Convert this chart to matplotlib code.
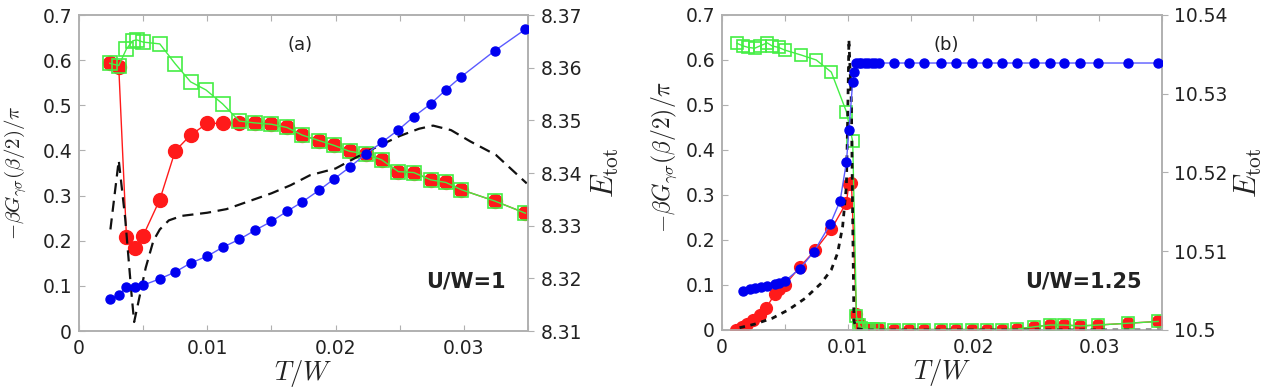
import matplotlib
matplotlib.use("Agg")
import matplotlib.pyplot as plt
from matplotlib.ticker import FixedLocator, FuncFormatter

plt.rcParams["mathtext.fontset"] = "cm"
plt.rcParams["font.family"] = ["DejaVu Sans"]

# ---------------- panel (a): U/W = 1 ----------------
Ta = [0.0024, 0.0031, 0.0037, 0.0044, 0.0050, 0.0063, 0.0075, 0.0087, 0.0100, 0.0112,
      0.0125, 0.0137, 0.0150, 0.0162, 0.0174, 0.0187, 0.0199, 0.0211, 0.0224, 0.0236,
      0.0249, 0.0261, 0.0274, 0.0286, 0.0298, 0.0324, 0.0348]
red_a = [0.593, 0.585, 0.208, 0.183, 0.211, 0.291, 0.399, 0.434, 0.460, 0.460,
         0.461, 0.461, 0.458, 0.451, 0.434, 0.422, 0.411, 0.398, 0.392, 0.379,
         0.353, 0.351, 0.335, 0.329, 0.313, 0.288, 0.261]
Ea = [8.3161, 8.3168, 8.3184, 8.3184, 8.3187, 8.3199, 8.3212, 8.3229, 8.3242, 8.3259,
      8.3274, 8.3291, 8.3308, 8.3327, 8.3345, 8.3367, 8.3389, 8.3411, 8.3437, 8.3458,
      8.3482, 8.3507, 8.3531, 8.3558, 8.3583, 8.3632, 8.3673]
Tga = [0.0024, 0.0031, 0.0037, 0.0042, 0.0045, 0.0050, 0.0063, 0.0075, 0.0087, 0.0099,
       0.0112, 0.0125, 0.0137, 0.0150, 0.0162, 0.0174, 0.0187, 0.0199, 0.0211, 0.0224,
       0.0236, 0.0249, 0.0261, 0.0274, 0.0286, 0.0298, 0.0324, 0.0348]
green_a = [0.593, 0.588, 0.625, 0.643, 0.645, 0.640, 0.636, 0.592, 0.552, 0.534,
           0.503, 0.465, 0.461, 0.458, 0.451, 0.434, 0.422, 0.411, 0.398, 0.392,
           0.379, 0.353, 0.351, 0.335, 0.329, 0.313, 0.288, 0.261]
Tda = [0.00245, 0.0031, 0.0036, 0.0041, 0.0043, 0.0046, 0.0052, 0.0058, 0.0063, 0.0070,
       0.0080, 0.0100, 0.0115, 0.0130, 0.0150, 0.0165, 0.0180, 0.0200, 0.0225, 0.0250,
       0.0265, 0.0276, 0.0290, 0.0305, 0.0325, 0.0349]
dash_a = [0.225, 0.378, 0.250, 0.080, 0.020, 0.060, 0.140, 0.200, 0.225, 0.245,
          0.255, 0.262, 0.270, 0.285, 0.305, 0.323, 0.345, 0.360, 0.398, 0.432,
          0.448, 0.455, 0.445, 0.420, 0.390, 0.327]

# ---------------- panel (b): U/W = 1.25 ----------------
Tbb = [0.0017, 0.0022, 0.0026, 0.0031, 0.0036, 0.0042, 0.0045, 0.0050, 0.0062, 0.0073,
       0.0086, 0.0094, 0.0099, 0.0101, 0.0104, 0.0105, 0.0107, 0.0109, 0.0111, 0.0114,
       0.0116, 0.0119, 0.0122, 0.0125, 0.0137, 0.0149, 0.0161, 0.0174, 0.0186, 0.0199,
       0.0211, 0.0223, 0.0235, 0.0248, 0.0261, 0.0272, 0.0285, 0.0299, 0.0323, 0.0347]
Eb = [10.5050, 10.5052, 10.5053, 10.5054, 10.5056, 10.5058, 10.5060, 10.5062, 10.5078, 10.5099,
      10.5134, 10.5164, 10.5213, 10.5254, 10.5315, 10.5328, 10.5339, 10.5339, 10.5339, 10.5339,
      10.5339, 10.5339, 10.5339, 10.5339, 10.5339, 10.5339, 10.5339, 10.5339, 10.5339, 10.5339,
      10.5339, 10.5339, 10.5339, 10.5339, 10.5339, 10.5339, 10.5339, 10.5339, 10.5339, 10.5339]
Trb = [0.0011, 0.0016, 0.0020, 0.0025, 0.0030, 0.0035, 0.0042, 0.0045, 0.0050, 0.0062,
       0.0074, 0.0087, 0.0099, 0.0101, 0.0103, 0.0107, 0.0109, 0.0111, 0.0114, 0.0117,
       0.0120, 0.0125, 0.0137, 0.0149, 0.0161, 0.0174, 0.0186, 0.0199, 0.0211, 0.0223,
       0.0235, 0.0248, 0.0261, 0.0272, 0.0285, 0.0299, 0.0323, 0.0347]
red_b = [0.000, 0.007, 0.013, 0.022, 0.033, 0.048, 0.080, 0.090, 0.100, 0.140,
         0.177, 0.224, 0.283, 0.325, 0.327, 0.035, 0.015, 0.005, 0.003, 0.002,
         0.002, 0.002, 0.001, 0.001, 0.001, 0.001, 0.001, 0.001, 0.001, 0.001,
         0.002, 0.007, 0.011, 0.011, 0.009, 0.011, 0.015, 0.019]
Tgb = [0.0012, 0.0017, 0.0021, 0.0026, 0.0030, 0.0036, 0.0040, 0.0045, 0.0050, 0.0063,
       0.0075, 0.0087, 0.0099, 0.0104, 0.0107, 0.0109, 0.0111, 0.0114, 0.0117, 0.0120,
       0.0125, 0.0137, 0.0149, 0.0161, 0.0174, 0.0186, 0.0199, 0.0211, 0.0223, 0.0235,
       0.0248, 0.0261, 0.0272, 0.0285, 0.0299, 0.0323, 0.0347]
green_b = [0.637, 0.631, 0.628, 0.626, 0.631, 0.638, 0.631, 0.628, 0.622, 0.611,
           0.600, 0.573, 0.485, 0.419, 0.030, 0.012, 0.004, 0.003, 0.002, 0.002,
           0.002, 0.001, 0.001, 0.001, 0.001, 0.001, 0.001, 0.001, 0.001, 0.002,
           0.007, 0.011, 0.011, 0.009, 0.011, 0.015, 0.019]
Tdb = [0.0014, 0.0026, 0.0040, 0.0053, 0.0066, 0.0079, 0.0087, 0.0092, 0.0096, 0.0099,
       0.0100, 0.0101, 0.0103, 0.0104, 0.0105, 0.0107, 0.0115, 0.0150, 0.0200, 0.0250,
       0.0300, 0.0350]
dash_b = [0.005, 0.013, 0.026, 0.045, 0.070, 0.104, 0.134, 0.171, 0.230, 0.320,
          0.470, 0.645, 0.500, 0.245, 0.020, 0.003, 0.000, 0.000, 0.000, 0.000,
          0.000, 0.000]

xticks = [0, 0.005, 0.01, 0.015, 0.02, 0.025, 0.03, 0.035]
xlabels = {0: "0", 0.01: "0.01", 0.02: "0.02", 0.03: "0.03"}
yticks_l = [0, 0.1, 0.2, 0.3, 0.4, 0.5, 0.6, 0.7]

SPINE = "#b0b0b0"
TXT = "#222222"
BLUE = "#0000f0"
BLUE_LN = "#5a5aff"
RED = "#ff1a1a"
GREEN = "#44ee44"
FS = 13.5


def xfmt(v, pos):
    for k, s in xlabels.items():
        if abs(v - k) < 1e-9:
            return s
    return ""


def style(ax, ax2, rticks, rlabels):
    ax.set_xlim(0, 0.035)
    ax.set_ylim(0, 0.7)
    ax.xaxis.set_major_locator(FixedLocator(xticks))
    ax.xaxis.set_major_formatter(FuncFormatter(xfmt))
    ax.set_yticks(yticks_l)
    ax.set_yticklabels(["0", "0.1", "0.2", "0.3", "0.4", "0.5", "0.6", "0.7"])
    ax.tick_params(axis="x", direction="in", top=True, length=4, color=SPINE,
                   labelsize=FS, labelcolor=TXT, pad=6)
    ax.tick_params(axis="y", direction="in", length=4, color=SPINE,
                   labelsize=FS, labelcolor=TXT, pad=5)
    ax2.set_yticks(rticks)
    ax2.set_yticklabels(rlabels)
    ax2.tick_params(axis="y", direction="out", length=4, color=SPINE,
                    labelsize=FS, labelcolor=TXT, pad=5)
    for a in (ax, ax2):
        for sp in a.spines.values():
            sp.set_color(SPINE)
            sp.set_linewidth(1.2)
    ax.set_xlabel(r"$T/W$", fontsize=19, color=TXT, labelpad=0)


fig = plt.figure(figsize=(12.76, 3.89), dpi=100)

# ---------------- (a) ----------------
ax = fig.add_axes([0.0619, 0.1491, 0.3519, 0.8123])
ax2 = ax.twinx()
ax.plot(Ta, red_a, "-o", color=RED, lw=1, ms=10, mec=RED, zorder=3)
ax.plot(Tga, green_a, "-s", color=GREEN, lw=1, ms=10, mfc="none", mec=GREEN, mew=1.2, zorder=4)
ax.plot(Tda, dash_a, "--", color="#111111", lw=1.6, dashes=(5, 3), zorder=5)
ax2.plot(Ta, Ea, "-o", color=BLUE_LN, lw=1, ms=6.5, mfc=BLUE, mec=BLUE, zorder=3)
ax2.set_ylim(8.31, 8.37)
style(ax, ax2, [8.31, 8.32, 8.33, 8.34, 8.35, 8.36, 8.37],
      ["8.31", "8.32", "8.33", "8.34", "8.35", "8.36", "8.37"])
ax.set_ylabel(r"$-\beta G_{\gamma\sigma}(\beta/2)/\pi$", fontsize=15, color=TXT)
ax.yaxis.set_label_coords(-0.112, 0.50)
ax2.set_ylabel(r"$E_{\rm tot}$", fontsize=22, color=TXT)
ax2.yaxis.set_label_coords(1.138, 0.5)
ax.text(0.0172, 0.634, "(a)", fontsize=13, color=TXT, ha="center", va="center")
ax.text(0.0333, 0.109, "U/W=1", fontsize=15, fontweight="bold", color=TXT,
        ha="right", va="center")

# ---------------- (b) ----------------
bx = fig.add_axes([0.5658, 0.1517, 0.3448, 0.8098])
bx2 = bx.twinx()
bx.plot(Trb, red_b, "-o", color=RED, lw=1, ms=8.5, mec=RED, zorder=3)
bx.plot(Tgb, green_b, "-s", color=GREEN, lw=1, ms=8.5, mfc="none", mec=GREEN, mew=1.2, zorder=4)
bx.plot(Tdb, dash_b, "--", color="#111111", lw=2, dashes=(2, 2), zorder=5)
bx2.plot(Tbb, Eb, "-o", color=BLUE_LN, lw=1, ms=6.5, mfc=BLUE, mec=BLUE, zorder=3)
bx2.set_ylim(10.5, 10.54)
style(bx, bx2, [10.5, 10.51, 10.52, 10.53, 10.54],
      ["10.5", "10.51", "10.52", "10.53", "10.54"])
bx.set_ylabel(r"$-\beta G_{\gamma\sigma}(\beta/2)/\pi$", fontsize=17, color=TXT)
bx.yaxis.set_label_coords(-0.097, 0.55)
bx2.set_ylabel(r"$E_{\rm tot}$", fontsize=22, color=TXT)
bx2.yaxis.set_label_coords(1.161, 0.5)
bx.text(0.01786, 0.633, "(b)", fontsize=13, color=TXT, ha="center", va="center")
bx.text(0.0334, 0.107, "U/W=1.25", fontsize=15, fontweight="bold", color=TXT,
        ha="right", va="center")

fig.savefig("out.png", dpi=100)
